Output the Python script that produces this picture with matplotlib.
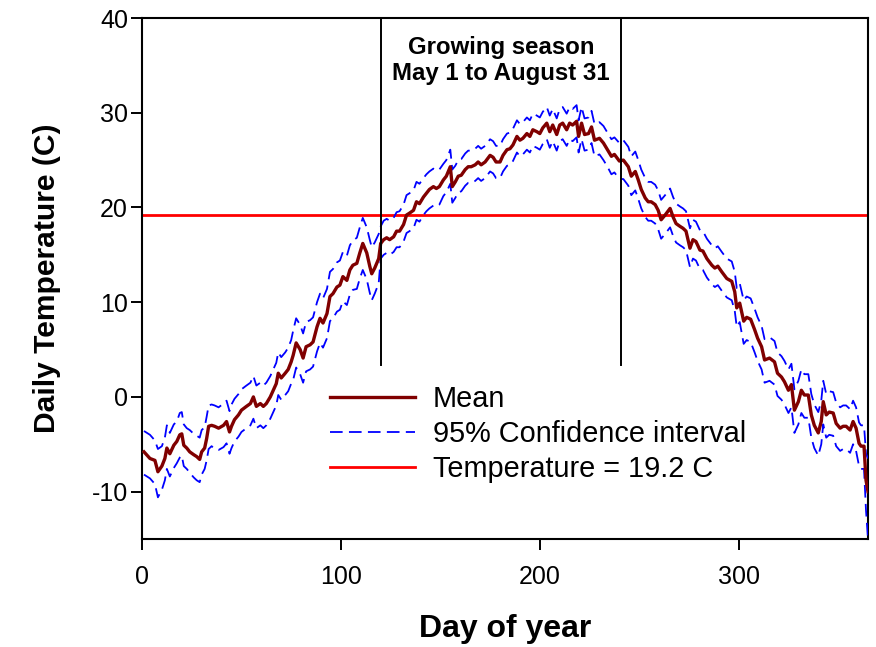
import matplotlib
matplotlib.use("Agg")
import matplotlib.pyplot as plt
import numpy as np

# ---------------- data ----------------
days = [1, 4, 6.5, 8, 10, 11.5, 12.5, 14, 16, 17.5, 19, 20, 21, 22.5, 24, 26, 27.5, 29, 30, 31.5,
        32.5, 33.5, 35, 36.5, 38.5, 41, 42.5, 44, 45, 46.5, 48.5, 50, 52.5, 54.5, 56, 57.5, 59.5, 61, 62.5, 64.5,
        66, 67.5, 68.5, 70, 72, 73.5, 75, 76, 77.5, 79.5, 81, 82.5, 84.5, 86, 88, 89.5, 91, 93, 94.5, 96,
        98, 99.5, 101, 103, 104.5, 106, 108, 109.5, 111, 113, 114.5, 115.5, 117, 119, 120, 121.5, 123, 124.5, 126.5, 128,
        129.5, 131.5, 133, 134.5, 136.5, 138, 139.5, 141.5, 143, 144.5, 146.5, 148, 149.5, 151.5, 153, 155, 156, 157.5, 159, 160.5,
        162.5, 164, 165.5, 167.5, 169, 170.5, 172.5, 175, 176.5, 178, 180, 181.5, 183.5, 185, 186.5, 188.5, 190, 191.5, 193.5, 195,
        196.5, 198.5, 200, 201.5, 203.5, 205, 206.5, 208.5, 210, 211.5, 213.5, 215, 216.5, 218.5, 219.5, 221, 222.5, 224.5, 226, 227.5,
        230, 232, 234, 236, 237.5, 240, 242, 244.5, 246, 248, 249.5, 251, 253, 254.5, 256, 258, 259.5, 261, 263, 265.5,
        267, 268.5, 270.5, 272, 273.5, 275.5, 277, 278.5, 280.5, 282, 284, 286.5, 288, 289.5, 291.5, 294, 296.5, 298, 299, 300.5,
        302.5, 304, 306, 308, 309.5, 311.5, 313, 315.5, 318, 319.5, 321.5, 323, 325, 326.5, 328, 330, 331.5, 333, 335, 336.5,
        338, 340, 341.5, 342.5, 344, 345.5, 347.5, 349, 351, 352.5, 354, 356, 357.5, 359, 360.5, 361.5, 363, 364, 365]

mean_temp = [-5.8, -6.5, -6.7, -7.9, -7.3, -6.5, -5.4, -6.0, -5.1, -4.7, -4.0, -3.9, -5.1, -5.4, -5.8, -6.1, -6.3, -6.6, -5.8, -5.4,
             -4.4, -3.1, -3.0, -3.1, -3.3, -3.0, -2.6, -3.7, -3.1, -2.4, -1.9, -1.4, -1.0, -0.7, 0.0, -1.0, -0.7, -1.0, -0.7, 0.0,
             0.7, 1.4, 2.5, 2.0, 2.5, 2.9, 3.7, 4.4, 5.7, 5.0, 4.1, 5.3, 5.5, 5.8, 7.4, 8.3, 7.8, 8.8, 10.6, 10.9,
             11.6, 11.8, 12.7, 12.3, 13.4, 13.9, 14.1, 15.2, 16.2, 15.2, 13.8, 13.0, 13.6, 14.6, 16.2, 16.6, 16.8, 16.6, 16.9, 17.5,
             17.5, 18.2, 19.2, 19.4, 19.7, 20.6, 20.4, 21.1, 21.5, 21.9, 22.2, 22.0, 22.2, 22.9, 23.3, 24.3, 22.2, 22.7, 23.3, 23.4,
             24.0, 24.3, 24.3, 24.5, 24.8, 24.5, 24.8, 25.5, 25.3, 24.8, 24.8, 25.5, 26.1, 26.2, 26.6, 27.5, 27.1, 27.3, 27.8, 27.5,
             28.2, 28.0, 27.8, 28.4, 28.9, 28.0, 28.7, 27.7, 28.7, 28.9, 28.2, 28.9, 28.7, 29.1, 27.5, 28.9, 27.7, 27.8, 28.5, 27.1,
             27.3, 26.8, 26.1, 25.4, 25.6, 24.9, 25.0, 24.3, 23.3, 23.8, 22.9, 21.9, 21.0, 20.6, 20.6, 20.3, 19.7, 18.7, 19.2, 19.9,
             19.0, 18.3, 18.0, 17.8, 17.5, 15.7, 16.6, 16.4, 15.5, 15.4, 14.6, 13.9, 13.6, 13.8, 13.2, 12.5, 12.2, 11.1, 9.4, 9.9,
             8.0, 8.4, 8.2, 7.1, 6.2, 5.3, 3.9, 4.1, 3.7, 2.5, 2.1, 1.6, 0.7, 1.3, -1.4, -0.5, 0.7, 0.2, 0.2, -1.9,
             -3.0, -3.8, -2.6, -0.5, -1.9, -1.6, -1.7, -2.8, -3.3, -3.1, -3.1, -3.5, -2.6, -3.3, -4.9, -5.2, -5.2, -8.8, -10.0]

ci_upper = [-3.6, -4.0, -4.6, -5.5, -5.2, -4.3, -3.0, -3.8, -2.9, -2.6, -1.7, -1.6, -2.9, -3.3, -3.5, -3.9, -4.1, -4.3, -3.5, -3.2,
            -2.1, -0.9, -0.8, -0.9, -1.1, -0.7, -0.4, -1.5, -0.8, -0.2, 0.3, 0.8, 1.2, 1.5, 2.2, 1.2, 1.5, 1.2, 1.5, 2.2,
            2.9, 3.6, 4.7, 4.2, 4.7, 5.2, 6.0, 7.0, 8.3, 7.6, 6.7, 7.9, 8.1, 8.4, 10.0, 10.9, 10.4, 11.4, 13.2, 13.5,
            14.2, 14.4, 15.3, 14.9, 16.0, 16.5, 16.8, 17.9, 18.9, 17.9, 16.6, 15.8, 16.3, 17.2, 18.0, 18.6, 18.8, 18.6, 18.9, 19.5,
            19.6, 20.3, 21.3, 21.5, 21.8, 22.7, 22.5, 23.1, 23.5, 23.8, 24.1, 23.9, 24.0, 24.6, 25.0, 26.1, 24.0, 24.4, 25.0, 25.1,
            25.7, 26.0, 26.0, 26.2, 26.5, 26.2, 26.5, 27.2, 27.0, 26.5, 26.5, 27.2, 27.8, 27.9, 28.3, 29.2, 28.8, 29.0, 29.5, 29.2,
            29.9, 29.7, 29.5, 30.1, 30.6, 29.7, 30.4, 29.4, 30.4, 30.6, 29.9, 30.6, 30.4, 30.8, 29.2, 30.6, 29.4, 29.5, 30.2, 28.8,
            29.0, 28.6, 27.9, 27.2, 27.4, 26.8, 27.1, 26.4, 25.4, 25.9, 25.0, 24.0, 23.1, 22.7, 22.7, 22.4, 21.8, 20.8, 21.3, 22.0,
            21.1, 20.4, 20.1, 19.9, 19.6, 17.8, 18.7, 18.5, 17.6, 17.5, 16.7, 16.0, 15.7, 15.9, 15.3, 14.6, 14.3, 13.2, 11.5, 12.0,
            10.2, 10.6, 10.4, 9.3, 8.4, 7.5, 6.1, 6.3, 5.9, 4.7, 4.3, 3.8, 2.9, 3.5, 0.8, 1.7, 2.9, 2.4, 2.4, 0.3,
            -0.8, -1.6, -0.4, 1.7, 0.3, 0.6, 0.5, -0.6, -1.1, -0.9, -0.9, -1.3, -0.4, -1.1, -2.7, -3.0, -3.0, -6.0, -6.5]

ci_lower = [-8.2, -8.6, -9.2, -10.6, -9.8, -8.8, -7.6, -8.4, -7.5, -7.0, -6.4, -6.2, -7.3, -7.6, -8.0, -8.5, -8.8, -9.0, -8.2, -7.6,
            -6.7, -5.5, -5.2, -5.5, -5.6, -5.3, -4.9, -6.0, -5.4, -4.7, -4.2, -3.7, -3.3, -3.0, -2.3, -3.3, -3.0, -3.3, -3.0, -2.3,
            -1.6, -0.9, 0.2, -0.3, 0.2, 0.6, 1.4, 1.8, 3.1, 2.4, 1.5, 2.7, 2.9, 3.2, 4.8, 5.7, 5.2, 6.2, 8.0, 8.3,
            9.0, 9.2, 10.1, 9.7, 10.8, 11.3, 11.4, 12.5, 13.4, 12.4, 11.0, 10.2, 10.9, 12.0, 14.6, 15.0, 15.2, 15.0, 15.3, 15.8,
            15.8, 16.4, 17.3, 17.5, 17.8, 18.7, 18.5, 19.2, 19.6, 19.9, 20.2, 20.1, 20.3, 21.2, 21.6, 22.5, 20.5, 21.0, 21.6, 21.7,
            22.3, 22.6, 22.6, 22.8, 23.1, 22.8, 23.1, 23.8, 23.6, 23.1, 23.1, 23.8, 24.4, 24.5, 24.9, 25.8, 25.4, 25.6, 26.1, 25.8,
            26.5, 26.3, 26.1, 26.7, 27.2, 26.3, 27.0, 26.0, 27.0, 27.2, 26.5, 27.2, 27.0, 27.4, 25.8, 27.2, 26.0, 26.1, 26.8, 25.4,
            25.6, 25.0, 24.3, 23.5, 23.7, 23.0, 23.0, 22.3, 21.3, 21.8, 20.9, 19.9, 19.0, 18.6, 18.6, 18.3, 17.7, 16.7, 17.2, 17.9,
            17.0, 16.3, 16.0, 15.8, 15.5, 13.7, 14.6, 14.4, 13.5, 13.4, 12.6, 11.9, 11.6, 11.8, 11.2, 10.5, 10.2, 9.1, 7.4, 7.9,
            5.6, 6.0, 5.8, 4.7, 3.8, 2.9, 1.5, 1.7, 1.3, 0.1, -0.3, -0.8, -1.7, -1.1, -3.8, -2.9, -1.7, -2.2, -2.2, -4.3,
            -5.4, -6.2, -5.0, -2.9, -4.3, -4.0, -4.1, -5.2, -5.7, -5.5, -5.5, -5.9, -5.0, -5.7, -7.3, -7.6, -7.6, -12.0, -15.0]

threshold = 19.2
season_start = 120
season_end = 241
season_line_bottom = 3.4

x_ticks = [0, 100, 200, 300]
y_ticks = [-10, 0, 10, 20, 30, 40]

# ---------------- figure ----------------
plt.rcParams['font.family'] = ['Liberation Sans', 'DejaVu Sans']
plt.rcParams['axes.unicode_minus'] = False

fig = plt.figure(figsize=(8.76, 6.47), dpi=100)
ax = fig.add_axes([142/876, 1 - 539/647, 726/876, 521/647])

ax.axhline(threshold, color='#ff0000', lw=2.0, zorder=2,
           label='Temperature = %.1f C' % threshold)
ax.plot(days, ci_upper, color='#0000ff', lw=1.3, dashes=(7, 3.5), zorder=3,
        label='95% Confidence interval')
ax.plot(days, ci_lower, color='#0000ff', lw=1.3, dashes=(7, 3.5), zorder=3)
ax.plot(days, mean_temp, color='#800000', lw=2.4, zorder=4, label='Mean')

for d in (season_start, season_end):
    ax.plot([d, d], [season_line_bottom, 40], color='black', lw=1.4, zorder=5)

ax.text((season_start + season_end) / 2, 35.5, 'Growing season\nMay 1 to August 31',
        ha='center', va='center', fontsize=17.3, fontweight='bold', linespacing=1.2)

ax.set_xlim(0, 365)
ax.set_ylim(-15, 40)
ax.set_xticks(x_ticks)
ax.set_yticks(y_ticks)
ax.tick_params(axis='both', direction='out', length=8, width=1.4, labelsize=18,
               top=False, right=False)
ax.tick_params(axis='x', pad=11)
ax.tick_params(axis='y', pad=2)
for s in ax.spines.values():
    s.set_linewidth(1.5)

ax.set_xlabel('Day of year', fontsize=23, fontweight='bold', labelpad=18)
ax.set_ylabel('Daily Temperature (C)', fontsize=21.6, fontweight='bold', labelpad=22)

h, l = ax.get_legend_handles_labels()
order = [l.index('Mean'), l.index('95% Confidence interval'), l.index('Temperature = %.1f C' % threshold)]
ax.legend([h[i] for i in order], [l[i] for i in order], loc='upper left',
          bbox_to_anchor=(0.243, 0.318), frameon=False, fontsize=20.8,
          handlelength=2.95, handletextpad=0.62, labelspacing=0.24, borderaxespad=0)

fig.savefig('out.png', dpi=100)
